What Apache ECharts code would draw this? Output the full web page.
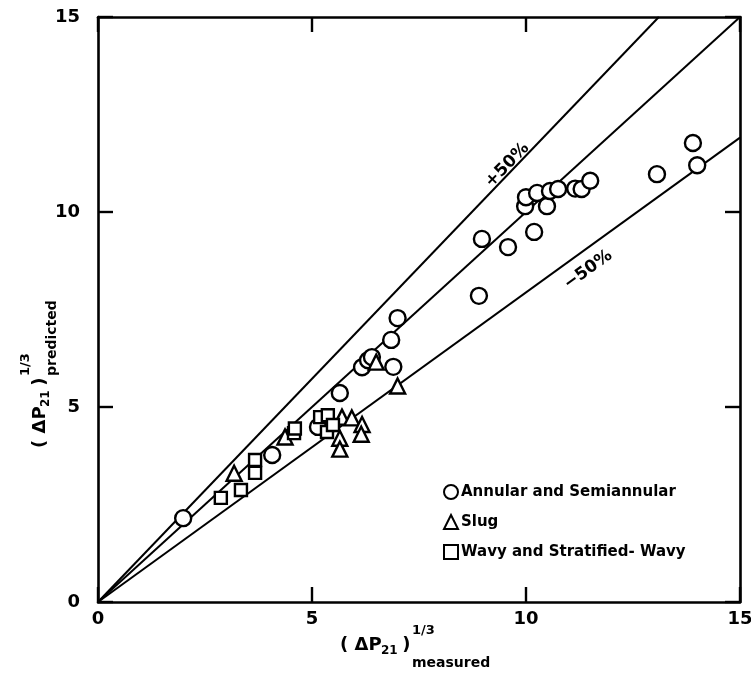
<!DOCTYPE html>
<html>
<head>
<meta charset="utf-8">
<script src="https://cdn.jsdelivr.net/npm/echarts@6/dist/echarts.min.js"></script>
<style>
  html, body { margin: 0; padding: 0; background: #fff; }
  #chart { width: 751px; height: 683px; }
</style>
</head>
<body>
<div id="chart"></div>
<script>
// Cube-root pressure-drop comparison: predicted vs measured
const axisTicks = [0, 5, 10, 15];

// Annular and semiannular flow
const annular = [
  [1.99, 2.15], [4.07, 3.77], [5.14, 4.49], [5.65, 5.36], [6.17, 6.02],
  [6.31, 6.20], [6.40, 6.28], [6.90, 6.03], [6.85, 6.72], [7.00, 7.28],
  [8.90, 7.85], [8.97, 9.31], [9.58, 9.10], [9.98, 10.15], [10.00, 10.38],
  [10.19, 9.49], [10.26, 10.49], [10.49, 10.15], [10.56, 10.54], [10.75, 10.59],
  [11.15, 10.60], [11.30, 10.59], [11.50, 10.80], [13.06, 10.97], [13.90, 11.77],
  [14.00, 11.20]
];

// Slug flow
const slug = [
  [3.18, 3.30], [4.37, 4.23], [5.70, 4.74], [5.93, 4.72], [6.17, 4.55],
  [6.15, 4.30], [5.65, 4.20], [5.65, 3.92], [6.50, 6.15], [7.00, 5.54]
];

// Wavy and stratified-wavy flow
const wavy = [
  [2.87, 2.67], [3.34, 2.87], [3.67, 3.31], [3.67, 3.64], [4.58, 4.33],
  [4.60, 4.45], [5.19, 4.74], [5.37, 4.79], [5.35, 4.36], [5.49, 4.54]
];

// Reference bands: ratio of predicted to measured pressure drop
const bandRatios = [1.0, 1.5, 0.5];
const bandNames = ['', '+50%', '\u221250%'];
// where along each band its text sits (measured value)
const bandLabelAt = [null, 9.63, 11.45];

const FONT = '"DejaVu Sans", "Liberation Sans", sans-serif';
const AXMAX = 15;

function bandLine(r) {
  const k = Math.cbrt(r);
  const xEnd = Math.min(AXMAX, AXMAX / k);
  return [[0, 0], [xEnd, k * xEnd]];
}

const lineSeries = bandRatios.map(function (r) {
  return {
    type: 'line',
    data: bandLine(r),
    symbol: 'none',
    silent: true,
    z: 1,
    lineStyle: { color: '#000', width: 2 }
  };
});

const labelPts = [];
bandRatios.forEach(function (r, i) {
  if (bandLabelAt[i] == null) return;
  const k = Math.cbrt(r);
  const x = bandLabelAt[i];
  labelPts.push({
    value: [x, k * x],
    name: bandNames[i],
    label: {
      rotate: i === 1 ? 46 : 36,
      offset: i === 1 ? [3, -7] : [-13, 18]
    }
  });
});

const markerStyle = { color: '#fff', borderColor: '#000', borderWidth: 2.4, opacity: 1 };

const chart = echarts.init(document.getElementById('chart'), null, { renderer: 'canvas' });

function axisCommon(extra) {
  return Object.assign({
    type: 'value',
    min: axisTicks[0],
    max: axisTicks[axisTicks.length - 1],
    interval: axisTicks[1] - axisTicks[0],
    splitLine: { show: false },
    axisLine: { show: true, onZero: false, lineStyle: { color: '#000', width: 2.6 } },
    axisTick: { show: true, inside: true, length: 15, lineStyle: { color: '#000', width: 2.4 } }
  }, extra);
}

function titleGroup(pos, rot, sub) {
  return {
    type: 'group',
    position: pos,
    rotation: rot,
    children: [
      { type: 'text', x: 0, y: 0, style: { text: '( \u0394P', font: 'bold 18px ' + FONT, fill: '#000', verticalAlign: 'middle' } },
      { type: 'text', x: 41, y: 6, style: { text: '21', font: 'bold 12px ' + FONT, fill: '#000', verticalAlign: 'middle' } },
      { type: 'text', x: 56, y: 0, style: { text: ' )', font: 'bold 18px ' + FONT, fill: '#000', verticalAlign: 'middle' } },
      { type: 'text', x: 72, y: -14, style: { text: '1/3', font: 'bold 13px ' + FONT, fill: '#000', verticalAlign: 'middle' } },
      { type: 'text', x: 72, y: sub, style: { text: rot ? 'predicted' : 'measured', font: 'bold 14px ' + FONT, fill: '#000', verticalAlign: 'middle' } }
    ]
  };
}

chart.setOption({
  backgroundColor: '#fff',
  animation: false,
  grid: { left: 98, right: 11, top: 17, bottom: 81, containLabel: false, outerBoundsMode: 'none' },
  xAxis: [
    axisCommon({
      position: 'bottom',
      axisLabel: { color: '#000', fontSize: 18, fontWeight: 'bold', fontFamily: FONT, margin: 8 }
    }),
    axisCommon({ position: 'top', axisLabel: { show: false } })
  ],
  yAxis: [
    axisCommon({
      position: 'left',
      axisLabel: { color: '#000', fontSize: 18, fontWeight: 'bold', fontFamily: FONT, margin: 18 }
    }),
    axisCommon({ position: 'right', axisLabel: { show: false } })
  ],
  legend: {
    orient: 'vertical',
    left: 438,
    top: 479,
    itemWidth: 14,
    itemHeight: 14,
    itemGap: 14,
    data: ['Annular and Semiannular', 'Slug', 'Wavy and Stratified- Wavy'],
    textStyle: { color: '#000', fontSize: 15, fontWeight: 'bold', fontFamily: FONT, padding: [0, 0, 0, -2] }
  },
  graphic: [
    titleGroup([340, 645], 0, 18),
    titleGroup([40, 448], Math.PI / 2, 12)
  ],
  series: lineSeries.concat([
    {
      type: 'scatter',
      data: labelPts,
      symbolSize: 0,
      silent: true,
      z: 2,
      itemStyle: { opacity: 1 },
      label: {
        show: true,
        position: 'inside',
        formatter: '{b}',
        color: '#000',
        opacity: 1,
        fontSize: 17,
        fontWeight: 'bold',
        fontFamily: FONT
      }
    },
    {
      name: 'Annular and Semiannular',
      type: 'scatter',
      symbol: 'circle',
      symbolSize: 16,
      data: annular,
      z: 3,
      itemStyle: markerStyle
    },
    {
      name: 'Slug',
      type: 'scatter',
      symbol: 'triangle',
      symbolSize: 15,
      data: slug,
      z: 3,
      itemStyle: markerStyle
    },
    {
      name: 'Wavy and Stratified- Wavy',
      type: 'scatter',
      symbol: 'rect',
      symbolSize: 12,
      data: wavy,
      z: 3,
      itemStyle: markerStyle
    }
  ])
});
</script>
</body>
</html>
